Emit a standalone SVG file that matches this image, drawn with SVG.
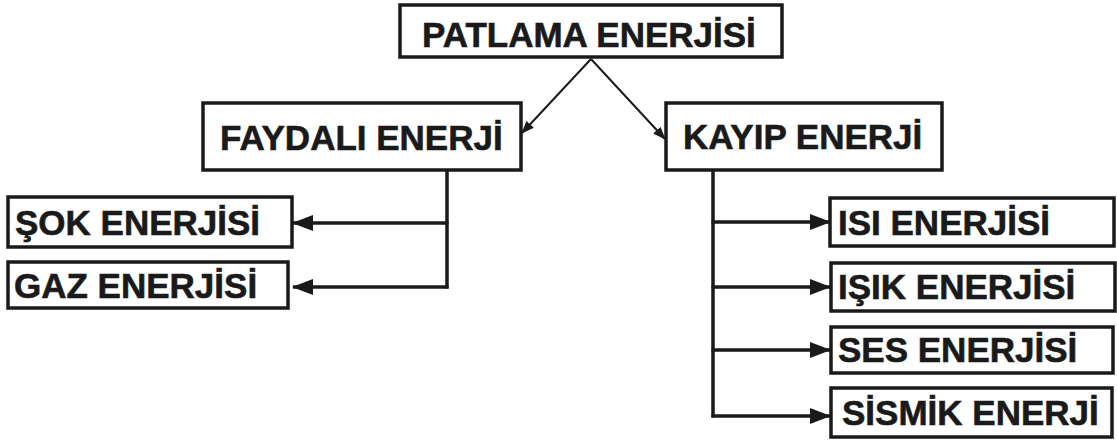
<svg xmlns="http://www.w3.org/2000/svg" width="1117" height="442" viewBox="0 0 1117 442">
  <style>
    .box { fill: #ffffff; stroke: #1a1a1a; stroke-width: 3.5; }
    .lbl { font-family: "Liberation Sans", Arial, sans-serif; font-weight: bold; font-size: 35px; fill: #1a1a1a; stroke: #1a1a1a; stroke-width: 0.6; }
    .link { fill: none; stroke: #1a1a1a; stroke-width: 3.5; }
    .diag { fill: none; stroke: #1a1a1a; stroke-width: 2; }
  </style>
  <defs>
    <marker id="head" markerUnits="userSpaceOnUse" markerWidth="21" markerHeight="16" refX="20" refY="8" orient="auto">
      <path d="M0,0 L21,8 L0,16 Z" fill="#1a1a1a"/>
    </marker>
    <marker id="headSmall" markerUnits="userSpaceOnUse" markerWidth="13" markerHeight="10" refX="12" refY="5" orient="auto">
      <path d="M0,0 L13,5 L0,10 Z" fill="#1a1a1a"/>
    </marker>
  </defs>
  <rect width="1117" height="442" fill="#ffffff"/>

  <g id="connectors">
    <path class="diag" d="M591,59 L522,133" marker-end="url(#headSmall)"/>
    <path class="diag" d="M591,59 L665,139" marker-end="url(#headSmall)"/>
    <path class="link" d="M447,170 L447,288.5"/>
    <path class="link" d="M448.5,223 L293,223" marker-end="url(#head)"/>
    <path class="link" d="M448.5,287 L293,287" marker-end="url(#head)"/>
    <path class="link" d="M713,170 L713,417.5"/>
    <path class="link" d="M711.5,222 L830,222" marker-end="url(#head)"/>
    <path class="link" d="M711.5,287 L830,287" marker-end="url(#head)"/>
    <path class="link" d="M711.5,350 L830,350" marker-end="url(#head)"/>
    <path class="link" d="M711.5,416 L830,416" marker-end="url(#head)"/>
  </g>

  <g id="patlama">
    <rect class="box" x="400" y="5" width="382" height="52"/>
    <text class="lbl" x="422" y="47">PATLAMA ENERJİSİ</text>
  </g>
  <g id="faydali">
    <rect class="box" x="203" y="103" width="318" height="67"/>
    <text class="lbl" x="220" y="150">FAYDALI ENERJİ</text>
  </g>
  <g id="kayip">
    <rect class="box" x="666" y="103" width="276" height="67"/>
    <text class="lbl" x="683" y="149">KAYIP ENERJİ</text>
  </g>
  <g id="sok">
    <rect class="box" x="8" y="197" width="284" height="50"/>
    <text class="lbl" x="15" y="235">ŞOK ENERJİSİ</text>
  </g>
  <g id="gaz">
    <rect class="box" x="8" y="262" width="280" height="46"/>
    <text class="lbl" x="14" y="298">GAZ ENERJİSİ</text>
  </g>
  <g id="isi">
    <rect class="box" x="830" y="198" width="284" height="48"/>
    <text class="lbl" x="838" y="235">ISI ENERJİSİ</text>
  </g>
  <g id="isik">
    <rect class="box" x="831" y="263" width="284" height="48"/>
    <text class="lbl" x="838" y="299">IŞIK ENERJİSİ</text>
  </g>
  <g id="ses">
    <rect class="box" x="831" y="327" width="282" height="46"/>
    <text class="lbl" x="838" y="362">SES ENERJİSİ</text>
  </g>
  <g id="sismik">
    <rect class="box" x="831" y="388" width="281" height="49"/>
    <text class="lbl" x="842" y="425">SİSMİK ENERJİ</text>
  </g>
</svg>
